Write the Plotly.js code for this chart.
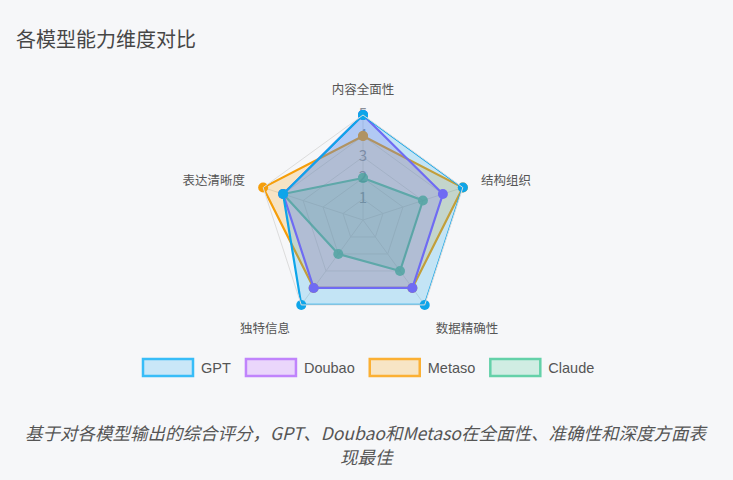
<!DOCTYPE html>
<html>
<head>
<meta charset="utf-8">
<script src="https://cdn.plot.ly/plotly-3.0.1.min.js"></script>
<style>
html,body{margin:0;padding:0;background:#f6f7f9;}
#chart{width:733px;height:480px;}
</style>
</head>
<body>
<div id="chart"></div>
<script>
const dimensions = ['内容全面性', '结构组织', '数据精确性', '独特信息', '表达清晰度'];
const gptScores = [5, 5, 5, 5, 4];
const doubaoScores = [5, 4, 4, 4, 4];
const metasoScores = [4, 5, 4, 4, 5];
const claudeScores = [2, 3, 3, 2, 4];
const radialTicks = [1, 2, 3, 4, 5];
const seriesNames = ['GPT', 'Doubao', 'Metaso', 'Claude'];
const lineColors = ['#0ea5e9', '#8b5cf6', '#f59e0b', '#10b981'];
const fillColors = ['rgba(14,165,233,0.22)', 'rgba(139,92,246,0.22)', 'rgba(245,158,11,0.22)', 'rgba(16,185,129,0.25)'];
const legendBorders = ['#38bdf8', '#c084fc', '#fbb034', '#34c58f'];
const legendFills = ['#c9e7f8', '#ead6fb', '#f7e5c5', '#c4eadc'];
const titleText = '各模型能力维度对比';
const captionLines = ['基于对各模型输出的综合评分，GPT、Doubao和Metaso在全面性、准确性和深度方面表', '现最佳'];

const seriesValues = [gptScores, doubaoScores, metasoScores, claudeScores];
const FONT = '"Noto Sans CJK SC", "Noto Sans", sans-serif';
const LATIN = '"Liberation Sans", Arial, sans-serif';

function closed(arr) { return arr.concat([arr[0]]); }

const traces = [];
// radial tick labels along the top axis
traces.push({
  type: 'scatterpolar',
  mode: 'text',
  r: radialTicks,
  theta: radialTicks.map(() => dimensions[0]),
  text: radialTicks.map(String),
  textfont: {size: 15, color: '#8a8f98', family: FONT},
  showlegend: false,
  hoverinfo: 'skip'
});
// draw later series beneath earlier ones
for (let i = seriesNames.length - 1; i >= 0; i--) {
  traces.push({
    type: 'scatterpolar',
    name: seriesNames[i],
    r: closed(seriesValues[i]),
    theta: closed(dimensions),
    mode: 'lines+markers',
    fill: 'toself',
    fillcolor: fillColors[i],
    line: {color: lineColors[i], width: 2.2},
    marker: {color: lineColors[i], size: 10},
    opacity: i === 3 ? 0.75 : 1
  });
}

const layout = {
  width: 733,
  height: 480,
  margin: {l: 0, r: 0, t: 0, b: 0},
  paper_bgcolor: '#f6f7f9',
  plot_bgcolor: '#f6f7f9',
  font: {family: FONT, color: '#555'},
  title: {
    text: titleText,
    x: 16 / 733, xanchor: 'left',
    y: 1 - 40 / 480, yanchor: 'middle',
    font: {size: 20, color: '#464646', family: FONT}
  },
  polar: {
    domain: {x: [258 / 733, 468 / 733], y: [155 / 480, 365 / 480]},
    bgcolor: 'rgba(0,0,0,0)',
    gridshape: 'linear',
    radialaxis: {
      range: [0, 5],
      tickvals: radialTicks,
      showticklabels: false,
      ticks: '',
      showline: false,
      gridcolor: '#dcdcdc',
      gridwidth: 1,
      angle: 90
    },
    angularaxis: {
      rotation: 90,
      direction: 'clockwise',
      gridcolor: '#dcdcdc',
      linecolor: '#dcdcdc',
      linewidth: 1,
      ticks: 'outside',
      ticklen: 16,
      tickcolor: 'rgba(0,0,0,0)',
      tickfont: {size: 12.5, color: '#555', family: FONT}
    }
  },
  showlegend: true,
  legend: {
    orientation: 'h',
    x: 0.5, xanchor: 'center',
    y: 113 / 480, yanchor: 'middle',
    traceorder: 'reversed',
    itemwidth: 58,
    font: {size: 14.5, color: '#555', family: LATIN},
    bgcolor: 'rgba(0,0,0,0)'
  },
  annotations: captionLines.map((line, k) => ({
    text: '<i>' + line + '</i>',
    xref: 'paper', yref: 'paper',
    x: 0.5, y: 1 - (432 + 24 * k) / 480,
    xanchor: 'center', yanchor: 'middle',
    showarrow: false,
    align: 'center',
    font: {size: 17.5, color: '#555', family: FONT}
  }))
};

Plotly.newPlot('chart', traces, layout, {displayModeBar: false, staticPlot: true}).then(gd => {
  // restyle legend swatches as bordered boxes (series colours)
  const items = gd.querySelectorAll('.legend .traces');
  items.forEach(item => {
    const name = item.querySelector('.legendtext').textContent;
    const idx = seriesNames.indexOf(name);
    if (idx < 0) return;
    item.querySelectorAll('.legendlines, .legendsymbols').forEach(el => el.style.display = 'none');
    const fp = item.querySelector('.legendfill path');
    if (fp) {
      fp.setAttribute('d', 'M10,-8h50v17h-50z');
      fp.style.fill = legendFills[idx];
      fp.style.fillOpacity = 1;
      fp.style.stroke = legendBorders[idx];
      fp.style.strokeWidth = '2.5px';
    }
  });
});
</script>
</body>
</html>
